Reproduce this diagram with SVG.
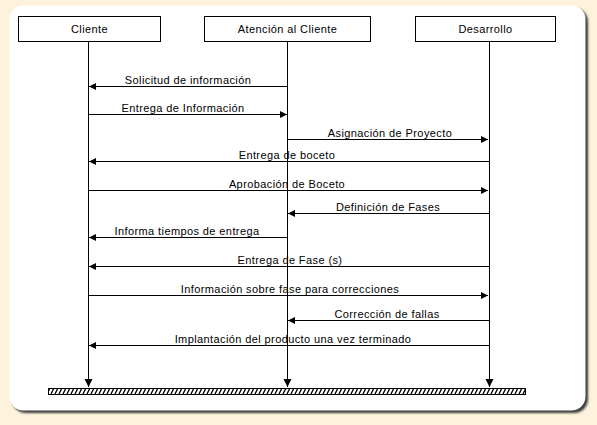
<svg xmlns="http://www.w3.org/2000/svg" width="597" height="425" viewBox="0 0 597 425">
<defs>
<style>
.box{fill:#fff;stroke:#000;stroke-width:1}
.t{font-family:"Liberation Sans",Arial,sans-serif;font-size:11px;fill:#000;text-anchor:middle;letter-spacing:0.4px}
.ln{stroke:#000;stroke-width:1;fill:none}
.msg{stroke:#000;stroke-width:1;fill:none;marker-end:url(#ah)}
</style>
<marker id="ah" markerUnits="userSpaceOnUse" markerWidth="8" markerHeight="8" refX="7" refY="3.5" orient="auto">
<path d="M0,0 L7,3.5 L0,7 z" fill="#000"/>
</marker>
<marker id="ahl" markerUnits="userSpaceOnUse" markerWidth="10" markerHeight="10" refX="8" refY="4" orient="auto">
<path d="M0,0 L8,4 L0,8 z" fill="#000"/>
</marker>
<pattern id="hatch" patternUnits="userSpaceOnUse" width="4" height="6" x="48" y="388">
<rect width="4" height="6" fill="#fff"/>
<path d="M-1,6 L2,0 M3,6 L6,0" stroke="#000" stroke-width="1.3"/>
</pattern>
<filter id="sh" x="-5%" y="-5%" width="110%" height="110%">
<feGaussianBlur stdDeviation="1.2"/>
</filter>
</defs>
<rect width="597" height="425" fill="#fdf3dc"/>
<rect x="12" y="8" width="576" height="405" rx="14" fill="#3a3a3a" filter="url(#sh)"/>
<rect x="9.5" y="5.5" width="576" height="405" rx="14" fill="#fff"/>

<g id="connectors">
<line class="ln" x1="88.5" y1="41" x2="88.5" y2="387" marker-end="url(#ahl)"/>
<line class="ln" x1="287.5" y1="41" x2="287.5" y2="387" marker-end="url(#ahl)"/>
<line class="ln" x1="489.5" y1="41" x2="489.5" y2="387" marker-end="url(#ahl)"/>

<line class="msg" x1="287" y1="86.5" x2="89" y2="86.5"/>
<text class="t" x="188" y="84">Solicitud de información</text>
<line class="msg" x1="89" y1="114.5" x2="287" y2="114.5"/>
<text class="t" x="183" y="112">Entrega de Información</text>
<line class="msg" x1="288" y1="139.5" x2="488" y2="139.5"/>
<text class="t" x="390" y="137">Asignación de Proyecto</text>
<line class="msg" x1="489" y1="161.5" x2="89" y2="161.5"/>
<text class="t" x="287" y="159">Entrega de boceto</text>
<line class="msg" x1="89" y1="190.5" x2="488" y2="190.5"/>
<text class="t" x="287" y="188">Aprobación de Boceto</text>
<line class="msg" x1="489" y1="213.5" x2="288" y2="213.5"/>
<text class="t" x="388" y="211">Definición de Fases</text>
<line class="msg" x1="287" y1="237.5" x2="89" y2="237.5"/>
<text class="t" x="187" y="235">Informa tiempos de entrega</text>
<line class="msg" x1="489" y1="266.5" x2="89" y2="266.5"/>
<text class="t" x="290" y="264">Entrega de Fase (s)</text>
<line class="msg" x1="89" y1="295.5" x2="488" y2="295.5"/>
<text class="t" x="290" y="293">Información sobre fase para correcciones</text>
<line class="msg" x1="489" y1="320.5" x2="288" y2="320.5"/>
<text class="t" x="387" y="318">Corrección de fallas</text>
<line class="msg" x1="489" y1="345.5" x2="89" y2="345.5"/>
<text class="t" x="293" y="343">Implantación del producto una vez terminado</text>
</g>

<g id="node-cliente">
<rect class="box" x="18.5" y="16.5" width="142" height="25"/>
<text class="t" x="89.5" y="33">Cliente</text>
</g>
<g id="node-atencion">
<rect class="box" x="204.5" y="16.5" width="166" height="25"/>
<text class="t" x="287.5" y="33">Atención al Cliente</text>
</g>
<g id="node-desarrollo">
<rect class="box" x="415.5" y="16.5" width="140" height="25"/>
<text class="t" x="485.5" y="33">Desarrollo</text>
</g>
<g id="node-end">
<rect x="48.5" y="388.5" width="477" height="6" fill="url(#hatch)" stroke="#000" stroke-width="1"/>
</g>
</svg>
